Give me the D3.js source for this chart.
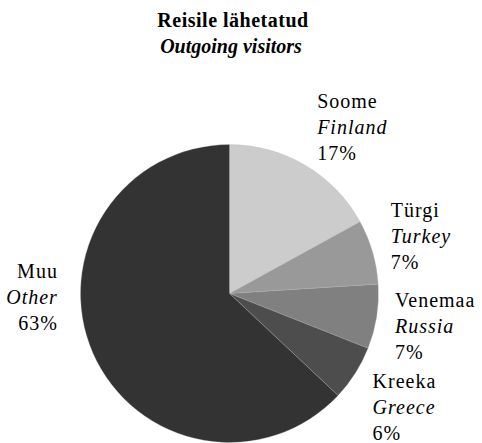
<!DOCTYPE html>
<html><head><meta charset="utf-8">
<script src="https://cdn.jsdelivr.net/npm/d3@7"></script>
<style>body{margin:0;background:#fff}svg{display:block}text{font-family:"Liberation Serif","Times New Roman",serif;fill:#000}</style>
</head><body>
<script>
const categories = ["Soome", "Türgi", "Venemaa", "Kreeka", "Muu"];
const categoriesEn = ["Finland", "Turkey", "Russia", "Greece", "Other"];
const values = [17, 7, 7, 6, 63];
const colors = ["#cccccc", "#999999", "#808080", "#4d4d4d", "#333333"];
const titleEt = "Reisile lähetatud";
const titleEn = "Outgoing visitors";

const W = 482, H = 443;
const cx = 229.5, cy = 293.5, R = 149;
const svg = d3.select("body").append("svg").attr("width", W).attr("height", H);

svg.append("text").attr("x", 233).attr("y", 27).attr("text-anchor", "middle")
  .style("font-weight", "bold").style("font-size", "20px").style("letter-spacing", "0.5px").text(titleEt);
svg.append("text").attr("x", 231).attr("y", 53).attr("text-anchor", "middle")
  .style("font-weight", "bold").style("font-style", "italic").style("font-size", "20px").text(titleEn);

const data = categories.map((c, i) => ({cat: c, en: categoriesEn[i], v: values[i], color: colors[i]}));
const pie = d3.pie().value(d => d.v).sort(null);
const arc = d3.arc().innerRadius(0).outerRadius(R);
const arcs = pie(data);

const g = svg.append("g").attr("transform", `translate(${cx},${cy})`);
g.selectAll("path").data(arcs).join("path")
  .attr("d", arc).attr("fill", d => d.data.color)
  .attr("stroke", "#bbbbbb").attr("stroke-width", 0.3);

// label anchors: centroid on a label arc plus manual nudges
const labelArc = d3.arc().innerRadius(R * 1.05).outerRadius(R * 1.05);
const nudges = [[8, -51, "start"], [11, -33, "start"], [11, -11, "start"], [11, 11, "start"], [-28, -78, "end"]];
const lg = g.selectAll("g.lbl").data(arcs).join("g").attr("class", "lbl")
  .attr("transform", (d, i) => {
    const c = labelArc.centroid(d);
    return `translate(${c[0] + nudges[i][0]},${c[1] + nudges[i][1]})`;
  });
lg.each(function(d, i) {
  const t = d3.select(this).append("text").attr("text-anchor", nudges[i][2])
    .style("font-size", "20px").style("letter-spacing", "1px");
  t.append("tspan").attr("x", 0).attr("dy", 0).text(d.data.cat);
  t.append("tspan").attr("x", 0).attr("dy", 26).style("font-style", "italic").text(d.data.en);
  t.append("tspan").attr("x", 0).attr("dy", 26).text(d.data.v + "%");
});
</script>
</body></html>
